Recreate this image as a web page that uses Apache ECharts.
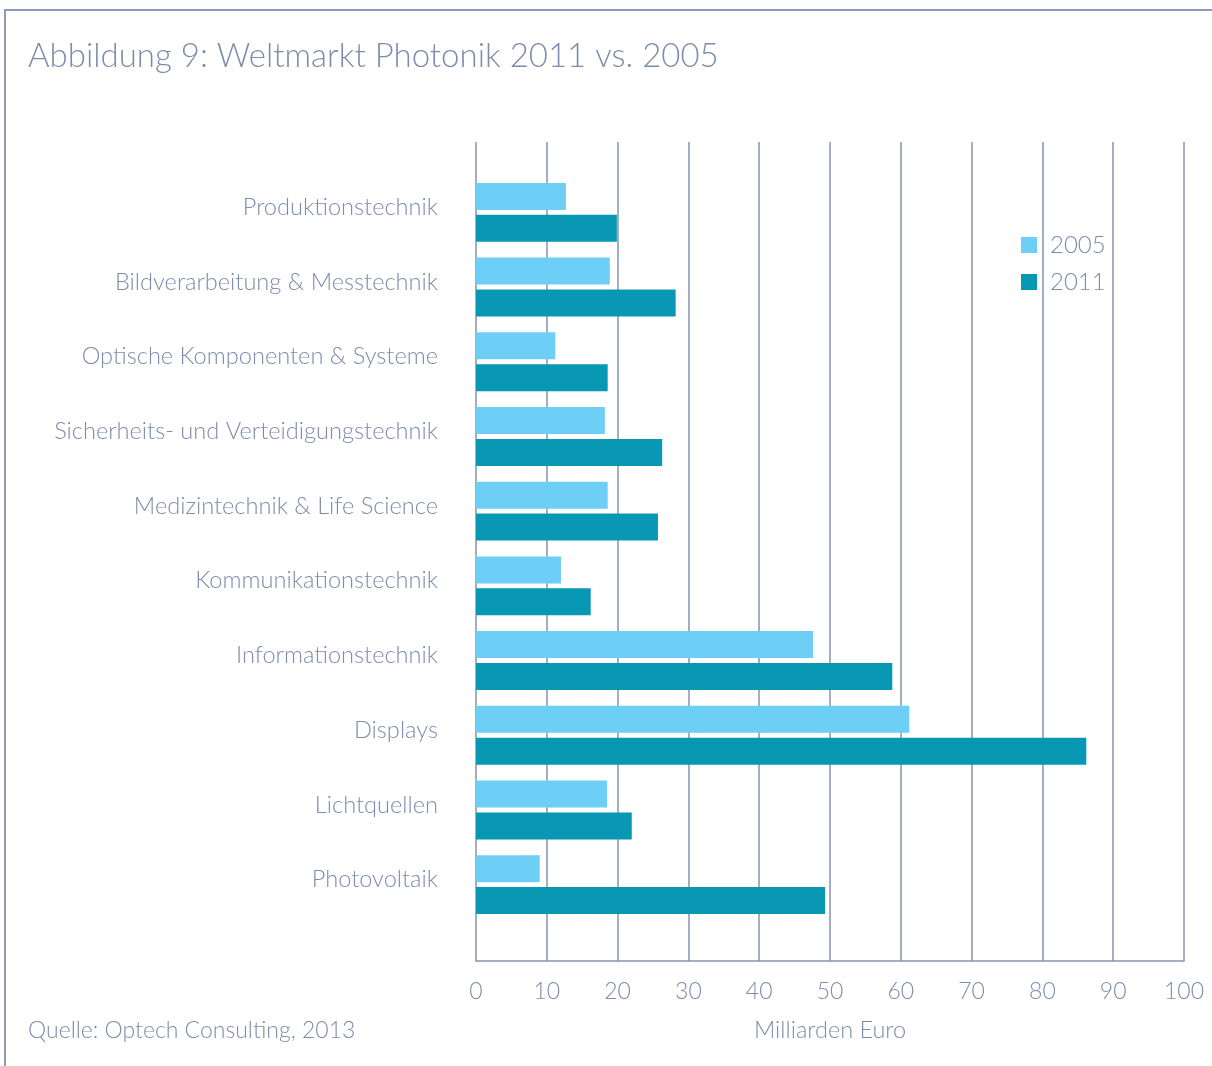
<!DOCTYPE html>
<html>
<head>
<meta charset="utf-8">
<script src="https://cdn.jsdelivr.net/npm/echarts@6/dist/echarts.min.js"></script>
<style>
  html, body { margin: 0; padding: 0; background: #fff; }
  #chart { width: 1212px; height: 1066px; }
</style>
</head>
<body>
<div id="chart"></div>
<script>
  // Kategorien von oben nach unten
  var categories = [
    'Produktionstechnik',
    'Bildverarbeitung & Messtechnik',
    'Optische Komponenten & Systeme',
    'Sicherheits- und Verteidigungstechnik',
    'Medizintechnik & Life Science',
    'Kommunikationstechnik',
    'Informationstechnik',
    'Displays',
    'Lichtquellen',
    'Photovoltaik'
  ];
  var values2005 = [12.7, 18.9, 11.2, 18.2, 18.6, 12.0, 47.6, 61.2, 18.5, 9.0];
  var values2011 = [19.9, 28.2, 18.6, 26.3, 25.7, 16.2, 58.8, 86.2, 22.0, 49.3];
  var xTicks = [0, 10, 20, 30, 40, 50, 60, 70, 80, 90, 100];

  var textColor = '#7d8cab';
  var lineColor = '#8593b2';
  var font = 'Lato';

  var chart = echarts.init(document.getElementById('chart'));
  var option = {
    animation: false,
    textStyle: { fontFamily: font, fontWeight: 300, color: textColor },
    title: [
      {
        text: 'Abbildung 9: Weltmarkt Photonik 2011 vs. 2005',
        left: 23, top: 35,
        textStyle: { fontFamily: font, fontWeight: 300, fontSize: 33, color: textColor }
      },
      {
        text: 'Quelle: Optech Consulting, 2013',
        left: 23, top: 1014,
        textStyle: { fontFamily: font, fontWeight: 300, fontSize: 23, color: textColor }
      }
    ],
    legend: {
      orient: 'vertical',
      left: 1016, top: 228,
      itemWidth: 16, itemHeight: 16, itemGap: 13,
      icon: 'rect',
      data: ['2005', '2011'],
      textStyle: { fontFamily: font, fontWeight: 300, fontSize: 24, color: textColor, padding: [0, 0, 0, 8] }
    },
    grid: [
      // Gitter und Achse
      { left: 476, right: 28, top: 142, bottom: 105 },
      // Balken
      { left: 476, right: 28, top: 175, height: 747 },
      // Beschriftung, etwas nach oben versetzt
      { left: 476, right: 28, top: 170, height: 747 }
    ],
    xAxis: [
      {
        gridIndex: 0, type: 'value', min: 0, max: 100, interval: 10,
        name: 'Milliarden Euro', nameLocation: 'middle', nameGap: 57,
        nameTextStyle: { fontFamily: font, fontWeight: 300, fontSize: 23.5, color: textColor },
        axisLine: { show: true, lineStyle: { color: lineColor, width: 1.5 } },
        axisTick: { show: false },
        axisLabel: {
          margin: 19, fontSize: 23, color: textColor, fontFamily: font, fontWeight: 300,
          formatter: function (v) { return xTicks.indexOf(v) >= 0 ? String(v) : ''; }
        },
        splitLine: { show: true, lineStyle: { color: lineColor, width: 1.5 } }
      },
      {
        gridIndex: 1, type: 'value', min: 0, max: 100, interval: 10,
        show: false, splitLine: { show: false }
      },
      {
        gridIndex: 2, type: 'value', min: 0, max: 100, interval: 10,
        show: false, splitLine: { show: false }
      }
    ],
    yAxis: [
      {
        gridIndex: 0, type: 'category', data: [''], show: false
      },
      {
        gridIndex: 1, type: 'category', data: categories, inverse: true,
        axisLine: { show: false }, axisTick: { show: false }, axisLabel: { show: false }
      },
      {
        gridIndex: 2, type: 'category', data: categories, inverse: true,
        axisLine: { show: false }, axisTick: { show: false },
        axisLabel: {
          margin: 38, fontSize: 23.6, color: textColor, fontFamily: font, fontWeight: 300
        }
      }
    ],
    series: [
      {
        name: '2005', type: 'bar', xAxisIndex: 1, yAxisIndex: 1,
        data: values2005, barWidth: 27, barGap: '18%',
        itemStyle: { color: '#6dcff6' }
      },
      {
        name: '2011', type: 'bar', xAxisIndex: 1, yAxisIndex: 1,
        data: values2011, barWidth: 27, barGap: '18%',
        itemStyle: { color: '#0998b3' }
      }
    ],
    graphic: [
      {
        type: 'polyline', silent: true,
        shape: { points: [[5, 1066], [5, 10], [1212, 10]] },
        style: { stroke: '#8d9bb8', lineWidth: 2, fill: null }
      }
    ]
  };
  chart.setOption(option);
  window.addEventListener('resize', chart.resize);
</script>
</body>
</html>
